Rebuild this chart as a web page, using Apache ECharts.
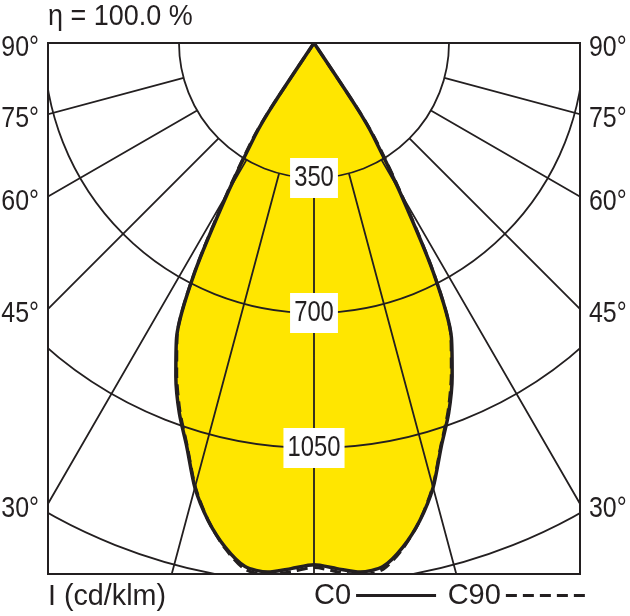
<!DOCTYPE html>
<html>
<head>
<meta charset="utf-8">
<title>LDC</title>
<script src="https://cdn.jsdelivr.net/npm/echarts@6.0.0/dist/echarts.min.js"></script>
<style>
  html, body { margin: 0; padding: 0; background: #fff; }
  #chart { width: 630px; height: 616px; }
</style>
</head>
<body>
<div id="chart"></div>
<script>
// gamma angle from nadir (deg) and intensity (cd/klm)
const gammaAngles = [0, 2.5, 5, 7.5, 10, 12.5, 15, 17.5, 20, 22.5, 25, 27.5, 30, 32.5, 33.5, 35]
const c0Values  = [1353, 1364, 1377, 1369, 1327, 1268, 1193, 1097, 1021, 936, 843, 669, 443, 285, 197, 0]
const c90Values = [1360, 1372, 1385, 1376, 1330, 1268, 1190, 1094, 1016, 930, 840, 672, 455, 300, 215, 0]
const ringStep = 350
const ringMax = 1400
const ringLabels = [350, 700, 1050]
const sideAngleLabels = [90, 75, 60, 45, 30]
const legendNames = ['C0', 'C90']
const titleText = 'η = 100.0 %'
const unitText = 'I (cd/klm)'

// layout
const FONT = '"Liberation Sans", Arial, sans-serif'
const INK = '#231f20'
const YELLOW = '#ffe600'
const box = { left: 48, top: 43, right: 580, bottom: 574 }
const cx = 314
const cy = 43
const pxPerUnit = 135 / 350
const halfW = cx - box.left

// left half uses gamma, right half 360 - gamma (angle 0 points down)
function toPolar(values) {
  const pts = []
  for (let i = values.length - 1; i >= 0; i--) pts.push([values[i], gammaAngles[i]])
  for (let i = 1; i < values.length; i++) pts.push([values[i], 360 - gammaAngles[i]])
  return pts
}

// scaleX squeezes Liberation Sans towards the condensed lettering of the original
function textEl(text, x, y, align, scaleX, extra) {
  return {
    type: 'text', x, y, z: 20, silent: true, scaleX,
    style: Object.assign({ text, fontSize: 29, fontFamily: FONT, fill: INK, align, verticalAlign: 'middle' }, extra || {}),
  }
}

const chart = echarts.init(document.getElementById('chart'), null, { renderer: 'canvas' })

chart.setOption({
  animation: false,
  backgroundColor: '#fff',
  polar: [
    { center: [cx, cy], radius: ringMax * pxPerUnit },
    { center: [cx, cy], radius: [ringStep * pxPerUnit, 900] },
  ],
  angleAxis: [
    {
      polarIndex: 0, type: 'value', min: 0, max: 360, startAngle: -90, clockwise: true,
      axisLine: { show: false }, axisTick: { show: false }, axisLabel: { show: false }, splitLine: { show: false },
    },
    {
      polarIndex: 1, type: 'value', min: 0, max: 360, interval: 15, startAngle: -90, clockwise: true, z: 3,
      axisLine: { show: false }, axisTick: { show: false }, axisLabel: { show: false },
      splitLine: { show: true, lineStyle: { color: INK, width: 1.8 } },
    },
  ],
  radiusAxis: [
    {
      polarIndex: 0, type: 'value', min: 0, max: ringMax, interval: ringStep, z: 4,
      axisLine: { show: false }, axisTick: { show: false }, axisLabel: { show: false },
      splitLine: { show: true, lineStyle: { color: INK, width: 1.8 } },
    },
    {
      polarIndex: 1, type: 'value', min: 0, max: 1,
      axisLine: { show: false }, axisTick: { show: false }, axisLabel: { show: false }, splitLine: { show: false },
    },
  ],
  legend: {
    data: legendNames, left: cx, top: 581, padding: 0, align: 'right', z: 20,
    itemWidth: 80, itemHeight: 14, itemGap: 10, selectedMode: false,
    itemStyle: { opacity: 0 },
    lineStyle: { width: 3.2 },
    textStyle: { fontSize: 29, fontFamily: FONT, color: INK },
  },
  series: [
    {
      name: 'fill', type: 'line', coordinateSystem: 'polar', polarIndex: 0,
      data: toPolar(c0Values), symbol: 'none', smooth: 0.25, silent: true, z: 1,
      lineStyle: { width: 0 }, areaStyle: { color: YELLOW, opacity: 1 },
    },
    {
      name: 'C0', type: 'line', coordinateSystem: 'polar', polarIndex: 0,
      data: toPolar(c0Values), symbol: 'none', smooth: 0.25, silent: true, z: 6,
      itemStyle: { color: INK }, lineStyle: { color: INK, width: 3.5 },
    },
    {
      name: 'C90', type: 'line', coordinateSystem: 'polar', polarIndex: 0,
      data: toPolar(c90Values), symbol: 'none', smooth: 0.25, silent: true, z: 7,
      itemStyle: { color: INK }, lineStyle: { color: INK, width: 3, type: [11, 6] },
    },
  ],
})

const angleTexts = []
sideAngleLabels.forEach(a => {
  const y = cy + (a === 90 ? 0 : halfW / Math.tan(a * Math.PI / 180)) + 5
  angleTexts.push(textEl(a + '°', 39, y, 'right', 0.86))
  angleTexts.push(textEl(a + '°', 589, y, 'left', 0.86))
})

// ring values sit on the nadir line, placed through the polar scale
const ringTexts = ringLabels.map(v => {
  const p = chart.convertToPixel({ seriesIndex: 1 }, [v, 0])
  return textEl(String(v), p[0], p[1], 'center', 0.82, { backgroundColor: '#fff', padding: [6, 5, 5, 5] })
})

chart.setOption({
  graphic: [
    // white masks: keep the polar grid inside the frame
    { type: 'rect', z: 10, silent: true, shape: { x: 0, y: 0, width: 630, height: box.top - 1 }, style: { fill: '#fff' } },
    { type: 'rect', z: 10, silent: true, shape: { x: 0, y: 0, width: box.left - 1, height: 616 }, style: { fill: '#fff' } },
    { type: 'rect', z: 10, silent: true, shape: { x: box.right + 1, y: 0, width: 630 - box.right, height: 616 }, style: { fill: '#fff' } },
    { type: 'rect', z: 10, silent: true, shape: { x: 0, y: box.bottom + 1, width: 630, height: 616 - box.bottom }, style: { fill: '#fff' } },
    {
      type: 'rect', z: 11, silent: true,
      shape: { x: box.left, y: box.top, width: box.right - box.left, height: box.bottom - box.top },
      style: { fill: 'none', stroke: INK, lineWidth: 2 },
    },
    textEl(titleText, 48, 17, 'left', 0.93),
    textEl(unitText, 48, 597, 'left', 0.99),
    ...angleTexts,
    ...ringTexts,
  ],
})
</script>
</body>
</html>
